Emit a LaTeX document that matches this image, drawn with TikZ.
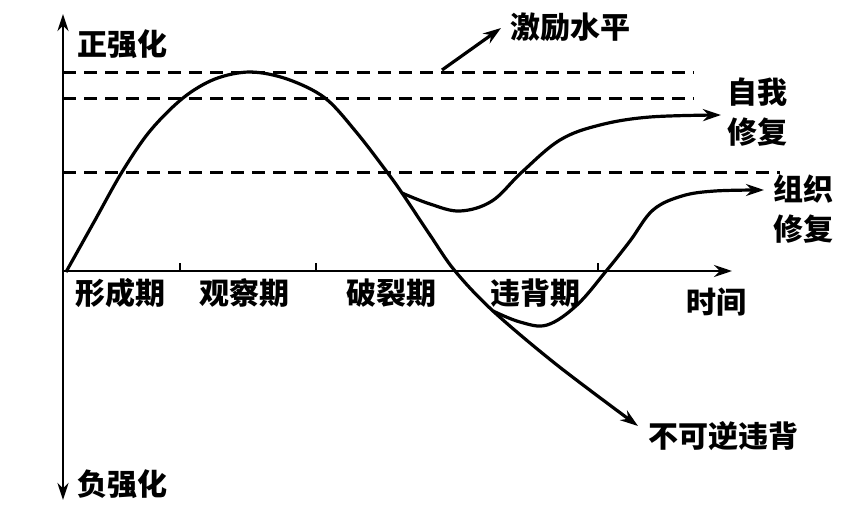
\documentclass[tikz,border=0pt]{standalone}
\usepackage{fontspec}
\setmainfont{Noto Sans CJK SC}
\usetikzlibrary{arrows.meta}
\begin{document}
\begin{tikzpicture}[x=1pt,y=-1pt,
  lbl/.style={font=\fontsize{30}{30}\selectfont\bfseries, inner sep=0pt},
  curve/.style={line width=3.2pt, line join=round},
  axis/.style={line width=2.8pt},
  lvl/.style={line width=3pt, dash pattern=on 13pt off 8pt},
  tipend/.style={-{Stealth[length=18pt,width=12pt]}}]
\useasboundingbox[fill=white] (0,0) rectangle (852,514);
% axes
\coordinate (O) at (63,271);
\coordinate (ytop) at (63,14);
\coordinate (ybot) at (63,500);
\coordinate (xend) at (732,271);
\draw[axis, {Stealth[length=17pt,width=11pt]}-{Stealth[length=17pt,width=11pt]}] (ybot) -- (ytop);
\draw[axis, tipend] (O) -- (xend);
\foreach \t in {180,316,598} \draw[line width=2pt] (\t,271) -- (\t,263);
% levels
\coordinate (l1a) at (63,72);  \coordinate (l1b) at (694,72);
\coordinate (l2a) at (63,98);  \coordinate (l2b) at (694,98);
\coordinate (l3a) at (63,172); \coordinate (l3b) at (780,172);
\draw[lvl] (l1a) -- (l1b);
\draw[lvl] (l2a) -- (l2b);
\draw[lvl] (l3a) -- (l3b);
% labels
\node[lbl] (pos) at (122,44) {正强化};
\node[lbl] (neg) at (122,484) {负强化};
\node[lbl] (p1) at (120,293) {形成期};
\node[lbl] (p2) at (244,293) {观察期};
\node[lbl] (p3) at (391,293) {破裂期};
\node[lbl] (p4) at (535,293) {违背期};
\node[lbl] (time) at (716,302) {时间};
\node[lbl] (jl) at (570,27) {激励水平};
\node[lbl, align=center] (self) at (757,112) {自我\\[10pt]修复};
\node[lbl, align=center] (org) at (803,209) {组织\\[10pt]修复};
\node[lbl] (irr) at (723,436) {不可逆违背};
% excitation arrow
\coordinate (ea) at (442,70);
\coordinate (eb) at (501,28);
\draw[curve, tipend] (ea) -- (eb);
% main curve
\draw[curve, tipend] plot[smooth, tension=0.55] coordinates {
 (66,272) (94,222) (122,172) (150,131) (183,98) (215,79) (250,72) (287,79)
 (325,98) (357,133) (387,172) (402,193) (430,235) (455,271) (493,311)
 (557,365) (638,426)};
% self repair
\draw[curve, tipend] plot[smooth, tension=0.6] coordinates {
 (402,193) (430,204) (460,211) (492,201) (522,172) (560,140) (600,125)
 (650,117) (721,115)};
% organisation repair
\draw[curve, tipend] plot[smooth, tension=0.6] coordinates {
 (493,311) (520,322) (547,325) (577,305) (607,270) (630,241) (653,210)
 (682,196) (715,191) (764,190)};
\end{tikzpicture}
\end{document}
